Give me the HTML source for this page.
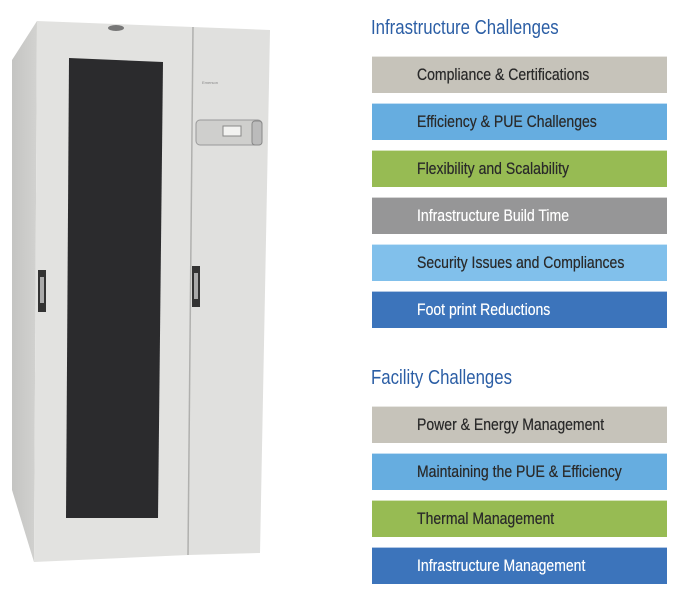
<!DOCTYPE html>
<html><head><meta charset="utf-8"><style>
body{margin:0;width:688px;height:605px;background:#fff;position:relative;overflow:hidden;font-family:"Liberation Sans",sans-serif}
.h{position:absolute;left:371px;color:#2b5ea5;font-size:20px;transform:scaleX(.84);transform-origin:left top;white-space:nowrap}
.b{position:absolute;left:372px;width:295px;height:37px;box-sizing:border-box;border-top:1px solid rgba(255,255,255,.6)}
.b span{position:absolute;left:45px;top:9px;font-size:16.5px;color:#2a2a2a;transform:scaleX(.85);transform-origin:left top;white-space:nowrap;text-shadow:0 0 .4px #2a2a2a}
.b span.w{color:#fff;text-shadow:0 0 .4px #fff}
</style></head><body>
<svg width="300" height="605" style="position:absolute;left:0;top:0">
<defs><linearGradient id="s" x1="0" x2="1"><stop offset="0" stop-color="#c4c4c2"/><stop offset="1" stop-color="#d2d2d0"/></linearGradient></defs>
<polygon points="12,60 37,21 34,562 12,490" fill="url(#s)"/>
<polygon points="37,21 193,27 188,555 34,562" fill="#e2e2e0"/>
<polygon points="193,27 270,30 260,553 188,555" fill="#e0e0de"/>
<line x1="193" y1="27" x2="188" y2="555" stroke="#b0b0ae" stroke-width="1.5"/>
<polygon points="69,58 163,62 158,518 66,518" fill="#2b2b2d"/>
<ellipse cx="116" cy="28" rx="8" ry="3" fill="#777"/>
<rect x="196" y="120" width="66" height="25" rx="4" fill="#cfcfcd" stroke="#999"/>
<rect x="223" y="126" width="18" height="10" fill="#f2f2f0" stroke="#888"/>
<rect x="252" y="121" width="10" height="24" rx="3" fill="#bbb" stroke="#888"/>
<rect x="38" y="270" width="8" height="42" fill="#333"/><rect x="40" y="277" width="4" height="26" fill="#aaa"/>
<rect x="192" y="266" width="8" height="41" fill="#333"/><rect x="194" y="273" width="4" height="26" fill="#aaa"/>
<text x="202" y="84" font-size="4" fill="#888" font-family="Liberation Sans">Emerson</text>
</svg>
<div class="h" style="top:17px">Infrastructure Challenges</div>
<div class="b" style="top:56px;background:#c6c3ba"><span>Compliance &amp; Certifications</span></div>
<div class="b" style="top:103px;background:#66ade0"><span>Efficiency &amp; PUE Challenges</span></div>
<div class="b" style="top:150px;background:#97bb53"><span>Flexibility and Scalability</span></div>
<div class="b" style="top:197px;background:#969697"><span class="w">Infrastructure Build Time</span></div>
<div class="b" style="top:244px;background:#81c0eb"><span>Security Issues and Compliances</span></div>
<div class="b" style="top:291px;background:#3c74bb"><span class="w">Foot print Reductions</span></div>
<div class="h" style="top:367px">Facility Challenges</div>
<div class="b" style="top:406px;background:#c6c3ba"><span>Power &amp; Energy Management</span></div>
<div class="b" style="top:453px;background:#66ade0"><span>Maintaining the PUE &amp; Efficiency</span></div>
<div class="b" style="top:500px;background:#97bb53"><span>Thermal Management</span></div>
<div class="b" style="top:547px;background:#3c74bb"><span class="w">Infrastructure Management</span></div>
</body></html>
